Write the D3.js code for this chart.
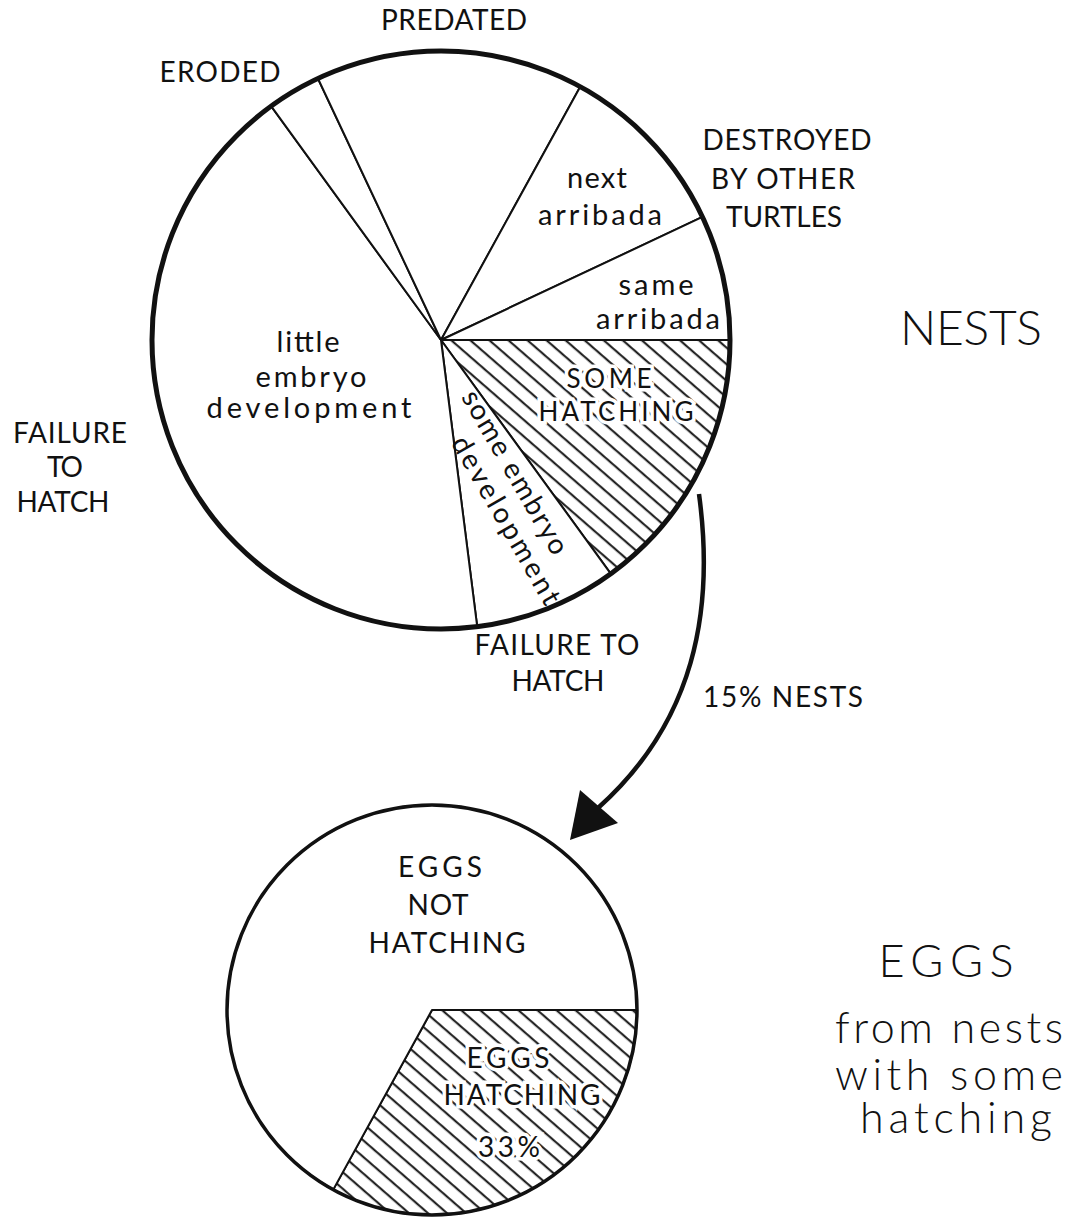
<!DOCTYPE html>
<html>
<head>
<meta charset="utf-8">
<script src="https://cdn.jsdelivr.net/npm/d3@7"></script>
<style>
  html, body { margin: 0; padding: 0; background: #fff; }
  text { font-family: "Lato", "Noto Sans", sans-serif; fill: #111; }
</style>
</head>
<body>
<div id="chart"></div>
<script>
// nests: slices listed clockwise starting at 3 o'clock
const nestCategories = ["SOME HATCHING", "some embryo development", "little embryo development",
                        "ERODED", "PREDATED", "next arribada", "same arribada"];
const nestValues = [15, 8, 42, 3, 15, 10, 7];
const nestHatched = [true, false, false, false, false, false, false];

// eggs from nests with some hatching
const eggCategories = ["EGGS HATCHING", "EGGS NOT HATCHING"];
const eggValues = [33, 67];
const eggHatched = [true, false];

const width = 1072, height = 1224;

const svg = d3.select('#chart')
    .append('svg')
    .attr('width', width)
    .attr('height', height);

// diagonal hatching
svg.append('defs')
    .append('pattern')
    .attr('id', 'hatch')
    .attr('patternUnits', 'userSpaceOnUse')
    .attr('width', 12.5)
    .attr('height', 12.5)
    .attr('patternTransform', 'rotate(41)')
    .append('line')
    .attr('x1', 0).attr('y1', 6)
    .attr('x2', 12.5).attr('y2', 6)
    .attr('stroke', '#111')
    .attr('stroke-width', 2);

function drawPie(values, hatched, cx, cy, r, rimWidth) {
    let pie = d3.pie()
        .sort(null)
        .value(d => d)
        .startAngle(Math.PI / 2)
        .endAngle(Math.PI / 2 + 2 * Math.PI);
    let arc = d3.arc().innerRadius(0).outerRadius(r);

    let g = svg.append('g').attr('transform', `translate(${cx},${cy})`);
    g.selectAll('path')
        .data(pie(values))
        .enter()
        .append('path')
        .attr('d', arc)
        .attr('fill', (d, i) => hatched[i] ? 'url(#hatch)' : '#fff')
        .attr('stroke', '#111')
        .attr('stroke-width', 2)
        .attr('stroke-linejoin', 'round');

    g.append('circle')
        .attr('r', r)
        .attr('fill', 'none')
        .attr('stroke', '#111')
        .attr('stroke-width', rimWidth);
}

drawPie(nestValues, nestHatched, 441, 340, 289, 5);
drawPie(eggValues, eggHatched, 432, 1010, 205, 3.5);

// arrow from the hatched nests slice down to the eggs pie
svg.append('path')
    .attr('d', 'M699,494 C715,612 694,722 598,808')
    .attr('fill', 'none')
    .attr('stroke', '#111')
    .attr('stroke-width', 4.5);
svg.append('path')
    .attr('d', 'M570,840 L580,790 L618,823 Z')
    .attr('fill', '#111');

// labels: text, x centre, baseline y, font size, width, halo, rotation, weight
const labels = [
    ['PREDATED', 454, 30, 28, 146],
    ['ERODED', 220, 82, 28, 121],
    ['DESTROYED', 787, 150, 28, 169],
    ['BY OTHER', 783, 189, 28, 144],
    ['TURTLES', 784, 227, 28, 116],
    ['next', 597, 188, 29, 60],
    ['arribada', 600, 225, 29, 124],
    ['same', 656, 295, 29, 75],
    ['arribada', 658, 329, 29, 124],
    ['little', 308, 352, 29, 63],
    ['embryo', 311, 387, 29, 111],
    ['development', 309, 418, 29, 205],
    ['SOME', 609, 388, 26, 85, true],
    ['HATCHING', 616, 421, 26, 155, true],
    ['some embryo', 507, 477, 28, 185, false, 60],
    ['development', 498, 525, 28, 190, false, 60],
    ['FAILURE TO', 557, 655, 28, 165],
    ['HATCH', 558, 691, 28, 93],
    ['15% NESTS', 783, 707, 28, 160],
    ['FAILURE', 70, 443, 28, 114],
    ['TO', 65, 477, 28, 36],
    ['HATCH', 63, 512, 28, 93],
    ['NESTS', 971, 345, 48, 142, false, 0, 300],
    ['EGGS', 440, 877, 28, 84],
    ['NOT', 438, 915, 28, 61],
    ['HATCHING', 447, 953, 28, 157],
    ['EGGS', 508, 1068, 28, 83, true],
    ['HATCHING', 522, 1105, 28, 157, true],
    ['33%', 509, 1157, 28, 62, true],
    ['EGGS', 946, 977, 45, 135, false, 0, 300],
    ['from nests', 949, 1043, 43, 228, false, 0, 300],
    ['with some', 949, 1090, 43, 228, false, 0, 300],
    ['hatching', 956, 1133, 43, 192, false, 0, 300]
];

svg.selectAll('.label')
    .data(labels)
    .enter()
    .append('text')
    .attr('class', 'label')
    .attr('text-anchor', 'middle')
    .attr('transform', d => `translate(${d[1]},${d[2]}) rotate(${d[6] || 0})`)
    .attr('font-size', d => d[3])
    .attr('font-weight', d => d[7] || 400)
    .attr('textLength', d => d[4])
    .attr('lengthAdjust', 'spacing')
    .attr('stroke', d => d[5] ? '#fff' : 'none')
    .attr('stroke-width', d => d[5] ? 7 : 0)
    .attr('paint-order', 'stroke')
    .text(d => d[0]);
</script>
</body>
</html>
